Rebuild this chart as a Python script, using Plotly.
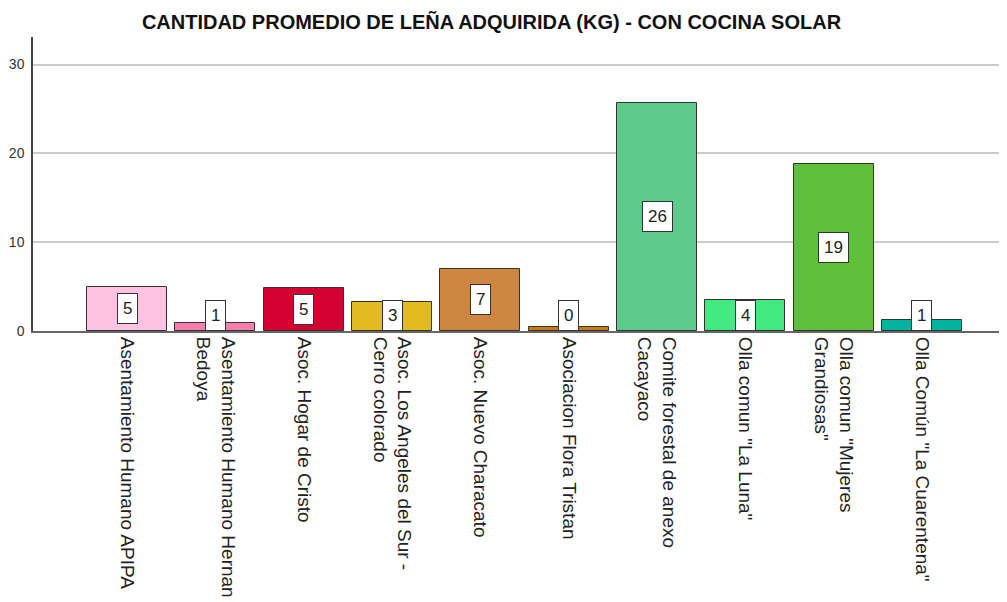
"""Bar chart: average firewood acquired (kg) with solar cooker, by group."""

import plotly.graph_objects as go

# ── Data ─────────────────────────────────────────────────────────────────────
groups = [
    "Asentamiento Humano APIPA",
    "Asentamiento Humano Hernan<br>Bedoya",
    "Asoc. Hogar de Cristo",
    "Asoc. Los Angeles del Sur -<br>Cerro colorado",
    "Asoc. Nuevo Characato",
    "Asociacion Flora Tristan",
    "Comite forestal de anexo<br>Cacayaco",
    "Olla comun \"La Luna\"",
    "Olla comun \"Mujeres<br>Grandiosas\"",
    "Olla Común \"La Cuarentena\"",
]
kg_avg = [4.96, 0.9, 4.85, 3.27, 7.0, 0.45, 25.7, 3.5, 18.8, 1.24]
value_labels = ["5", "1", "5", "3", "7", "0", "26", "4", "19", "1"]
colors = [
    "#FFC2E0", "#F77FAE", "#D50032", "#E2BB1F", "#CC8640",
    "#CC7A10", "#5DC98B", "#41E97F", "#5EC139", "#00B39C",
]
y_ticks = [0, 10, 20, 30]

TITLE = "CANTIDAD PROMEDIO DE LEÑA ADQUIRIDA (KG) - CON COCINA SOLAR"
FONT = "Liberation Sans, Arial, sans-serif"

# the page body adds an 8px offset, so margins are shifted to compensate
OFF = 8

x_idx = list(range(len(groups)))

fig = go.Figure()
fig.add_trace(go.Bar(
    x=x_idx, y=kg_avg,
    width=0.906,
    marker=dict(color=colors, line=dict(color="#333333", width=1)),
    showlegend=False,
    hoverinfo="skip",
))

# value boxes sit at the middle of each bar (minimum height for short bars)
for i, (v, lab) in enumerate(zip(kg_avg, value_labels)):
    fig.add_annotation(
        x=i, y=max(v / 2, 1.8), text=lab, showarrow=False,
        font=dict(family=FONT, size=17, color="#222222"),
        bgcolor="white", bordercolor="#333333", borderwidth=1, borderpad=5,
    )

fig.update_layout(
    width=1007, height=602,
    paper_bgcolor="white", plot_bgcolor="white",
    margin=dict(l=33 - OFF, r=2 + OFF, t=37 - OFF, b=271 + OFF, autoexpand=False),
    bargap=0,
    title=dict(
        text=f"<b>{TITLE}</b>", x=(491.5 - OFF) / 1007, xanchor="center",
        y=1 - (22 - OFF) / 602, yanchor="middle",
        font=dict(family=FONT, size=20, color="#111111"),
    ),
    font=dict(family=FONT),
)
fig.update_xaxes(
    range=[-1.065, 9.94],
    tickvals=x_idx, ticktext=groups, tickangle=90,
    tickfont=dict(family=FONT, size=19, color="#222222"),
    showgrid=False, zeroline=False,
    showline=True, linecolor="#666666", linewidth=2,
    ticks="", automargin=False,
)
fig.update_yaxes(
    range=[0, 33.1],
    tickvals=y_ticks,
    tickfont=dict(family=FONT, size=14, color="#333333"),
    ticklabelstandoff=4,
    showgrid=True, gridcolor="#CCCCCC", gridwidth=1.5,
    zeroline=False,
    showline=True, linecolor="#444444", linewidth=1.5,
    ticks="", automargin=False,
)

fig.write_html("out.html")
